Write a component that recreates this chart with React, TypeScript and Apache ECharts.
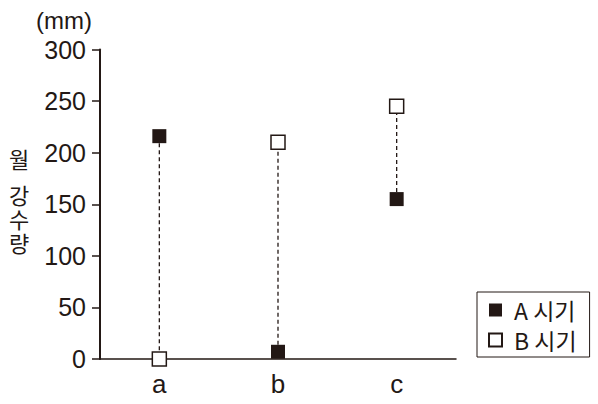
import React, { useEffect, useRef } from "react";
import * as echarts from "echarts";

const categories = ["a", "b", "c"];
const seriesA = [216, 7, 155];
const seriesB = [0, 210, 245];
const yTicks = { min: 0, max: 300, interval: 50 };
const legendNames = ["A 시기", "B 시기"];
const yTitleChars = ["월", "강", "수", "량"];

const INK = "#231815";
const NUM_FONT = "'Liberation Sans', Arial, 'Noto Sans CJK KR', sans-serif";
const KR_FONT = "'Noto Sans CJK KR', 'Liberation Sans', sans-serif";

export default function App() {
  const ref = useRef<HTMLDivElement>(null);
  useEffect(() => {
    if (!ref.current) return;
    const chart = echarts.init(ref.current, null, { renderer: "svg" });
    const pairs = categories.map((c, i) => [i, seriesA[i], seriesB[i]]);
    const titleY = [158, 194, 218, 242];
    chart.setOption({
      animation: false,
      backgroundColor: "#fff",
      grid: { left: 100, right: 142, top: 49.5, bottom: 45, containLabel: false },
      legend: {
        orient: "vertical",
        left: 477,
        top: 292,
        itemWidth: 13,
        itemHeight: 13,
        itemGap: 6,
        icon: "rect",
        borderColor: INK,
        borderWidth: 1,
        padding: [6, 13, 5, 11],
        textStyle: {
          color: INK,
          fontSize: 23,
          lineHeight: 24,
          fontFamily: KR_FONT,
          padding: [0, 0, 0, 7],
        },
        data: legendNames,
      },
      xAxis: {
        type: "category",
        data: categories,
        boundaryGap: true,
        axisLine: { lineStyle: { color: INK, width: 1.5 } },
        axisTick: { length: 8, lineStyle: { color: INK, width: 1.5 } },
        axisLabel: { color: INK, fontSize: 26, fontFamily: NUM_FONT, margin: 12 },
        splitLine: { show: false },
      },
      yAxis: {
        type: "value",
        min: yTicks.min,
        max: yTicks.max,
        interval: yTicks.interval,
        name: "(mm)",
        nameLocation: "end",
        nameGap: 29,
        nameTextStyle: {
          color: INK,
          fontSize: 24,
          fontFamily: NUM_FONT,
          align: "right",
          verticalAlign: "middle",
          padding: [0, 8, 0, 0],
        },
        axisLine: { show: true, lineStyle: { color: INK, width: 2 } },
        axisTick: { show: true, length: 8, lineStyle: { color: INK, width: 1.5 } },
        axisLabel: { color: INK, fontSize: 25, fontFamily: NUM_FONT, margin: 14 },
        splitLine: { show: false },
      },
      graphic: yTitleChars.map((ch, i) => ({
        type: "text",
        x: 19,
        y: titleY[i],
        style: {
          text: ch,
          fontSize: 22,
          fontFamily: KR_FONT,
          fill: INK,
          align: "center",
          verticalAlign: "middle",
        },
      })),
      series: [
        {
          type: "custom",
          name: "connector",
          data: pairs,
          silent: true,
          z: 1,
          renderItem: (params: any, api: any) => {
            const i = api.value(0);
            const p1 = api.coord([i, api.value(1)]);
            const p2 = api.coord([i, api.value(2)]);
            return {
              type: "line",
              shape: { x1: p1[0], y1: p1[1], x2: p2[0], y2: p2[1] },
              style: { stroke: INK, lineWidth: 1.3, lineDash: [4, 3] },
            };
          },
        },
        {
          type: "scatter",
          name: legendNames[0],
          data: seriesA,
          symbol: "rect",
          symbolSize: 14,
          z: 3,
          itemStyle: { color: INK, opacity: 1 },
        },
        {
          type: "scatter",
          name: legendNames[1],
          data: seriesB,
          symbol: "rect",
          symbolSize: 14,
          z: 3,
          itemStyle: { color: "#fff", borderColor: INK, borderWidth: 1.5, opacity: 1 },
        },
      ],
    });
    return () => chart.dispose();
  }, []);
  return <div ref={ref} style={{ width: 598, height: 404, position: "absolute", left: 0, top: 0 }} />;
}
